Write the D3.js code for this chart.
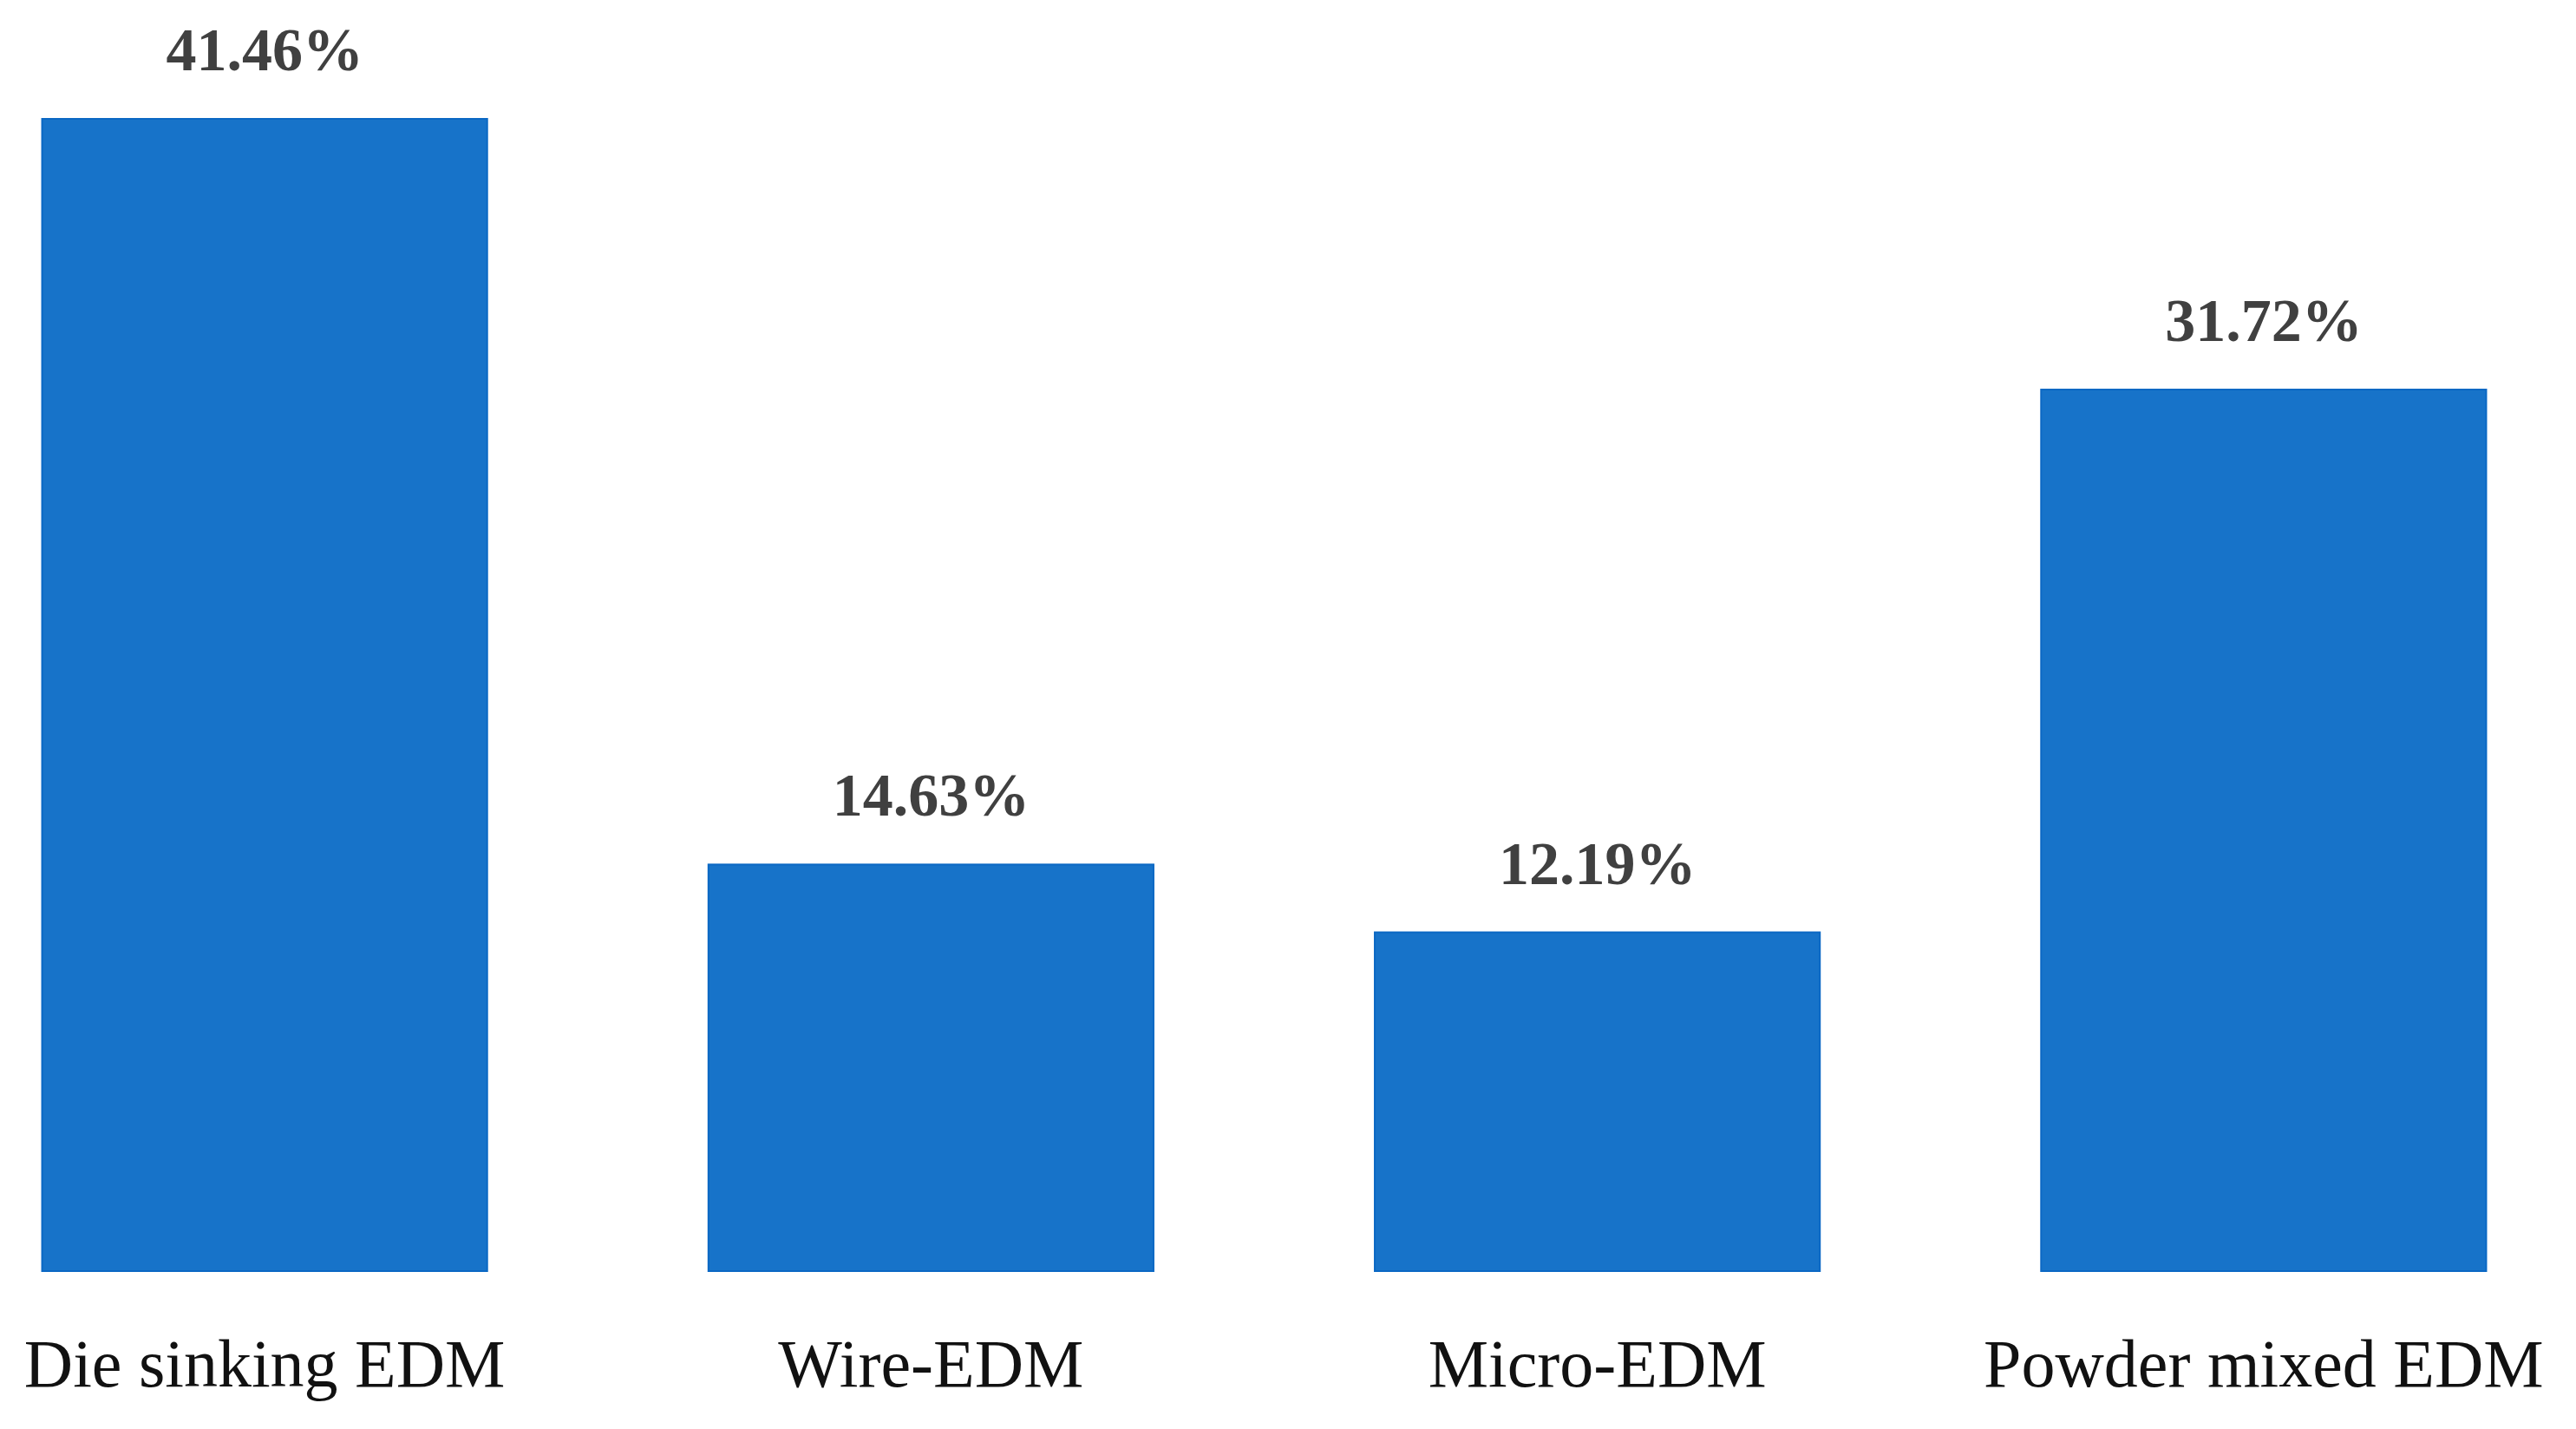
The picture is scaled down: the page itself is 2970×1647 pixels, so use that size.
<!DOCTYPE html>
<html>
<head>
<meta charset="utf-8">
<script src="https://cdn.jsdelivr.net/npm/d3@7/dist/d3.min.js"></script>
<style>
  html, body { margin: 0; padding: 0; background: #ffffff; }
  svg { display: block; }
</style>
</head>
<body>
<script>
const categories = ["Die sinking EDM", "Wire-EDM", "Micro-EDM", "Powder mixed EDM"];
const values = [41.46, 14.63, 12.19, 31.72];
const valueLabels = ["41.46%", "14.63%", "12.19%", "31.72%"];

const W = 2970, H = 1647;
const svg = d3.select("body").append("svg").attr("width", W).attr("height", H);

const x = d3.scaleBand()
  .domain(categories)
  .range([-79, 2994])
  .paddingInner(0.332)
  .paddingOuter(0.166);

const y = d3.scaleLinear()
  .domain([0, 41.46])
  .range([1465, 137]);

const data = categories.map((c, i) => ({ c, v: values[i], label: valueLabels[i] }));

svg.append("g").selectAll("rect")
  .data(data)
  .enter().append("rect")
  .attr("x", d => x(d.c))
  .attr("y", d => y(d.v))
  .attr("width", x.bandwidth())
  .attr("height", d => y(0) - y(d.v))
  .attr("fill", "#1773c9")
  .attr("stroke", "#0b68c4")
  .attr("stroke-width", 2);

svg.append("g").selectAll("text")
  .data(data)
  .enter().append("text")
  .attr("x", d => x(d.c) + x.bandwidth() / 2)
  .attr("y", d => y(d.v) - 56)
  .attr("text-anchor", "middle")
  .attr("font-family", "'Liberation Serif', 'Times New Roman', serif")
  .attr("font-weight", "bold")
  .attr("font-size", 70)
  .attr("fill", "#404040")
  .text(d => d.label);

const xAxis = d3.axisBottom(x).tickSize(0).tickPadding(0);
const gx = svg.append("g").attr("transform", "translate(0,1598)").call(xAxis);
gx.select(".domain").remove();
gx.selectAll("text")
  .attr("dy", 0)
  .attr("y", 0)
  .attr("font-family", "'Liberation Serif', 'Times New Roman', serif")
  .attr("font-size", 78)
  .attr("fill", "#111111");
</script>
</body>
</html>
